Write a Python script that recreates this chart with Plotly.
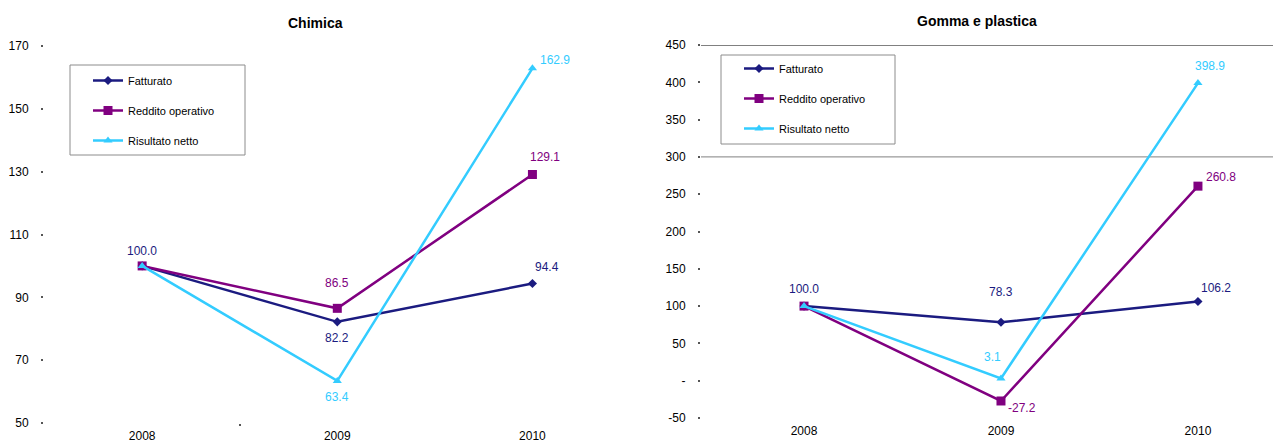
import plotly.graph_objects as go

# --- data -------------------------------------------------------------
years = ["2008", "2009", "2010"]

series_names = ["Fatturato", "Reddito operativo", "Risultato netto"]

chimica_fatturato = [100.0, 82.2, 94.4]
chimica_reddito = [100.0, 86.5, 129.1]
chimica_risultato = [100.0, 63.4, 162.9]

gomma_fatturato = [100.0, 78.3, 106.2]
gomma_reddito = [100.0, -27.2, 260.8]
gomma_risultato = [100.0, 3.1, 398.9]

chimica_yticks = [50, 70, 90, 110, 130, 150, 170]
chimica_yticktext = ["50", "70", "90", "110", "130", "150", "170"]
gomma_yticks = [-50, 0, 50, 100, 150, 200, 250, 300, 350, 400, 450]
gomma_yticktext = ["-50", "-", "50", "100", "150", "200", "250", "300", "350", "400", "450"]

# --- styling ----------------------------------------------------------
W, H = 1273, 443
NAVY = "#1b1b80"
PURPLE = "#800080"
CYAN = "#33ccff"
colors = [NAVY, PURPLE, CYAN]
symbols = ["diamond", "square", "triangle-up"]
msizes = [7, 9, 8]
FONT = "Liberation Sans, Arial, sans-serif"


def px_x(p):
    return p / W


def px_y(p):
    return (H - p) / H


fig = go.Figure()

idx = list(range(len(years)))

panels = [
    ("x", "y", "legend", [chimica_fatturato, chimica_reddito, chimica_risultato]),
    ("x2", "y2", "legend2", [gomma_fatturato, gomma_reddito, gomma_risultato]),
]

for xa, ya, lg, values in panels:
    for k, (name, vals) in enumerate(zip(series_names, values)):
        fig.add_trace(go.Scatter(
            x=idx, y=vals, name=name, mode="lines+markers",
            xaxis=xa, yaxis=ya, legend=lg, legendgroup=f"{lg}{k}",
            line=dict(color=colors[k], width=2.5),
            marker=dict(symbol=symbols[k], size=msizes[k], color=colors[k]),
            cliponaxis=False,
        ))

# --- data labels (offsets in pixels from each point) ------------------
label_specs = [
    # axis suffix, series values, color, point index, xshift, yshift
    ("", chimica_fatturato, NAVY, 0, 0, 15),
    ("", chimica_fatturato, NAVY, 1, 0, -16),
    ("", chimica_fatturato, NAVY, 2, 15, 17),
    ("", chimica_reddito, PURPLE, 1, 0, 25),
    ("", chimica_reddito, PURPLE, 2, 13, 17),
    ("", chimica_risultato, CYAN, 1, 0, -16),
    ("", chimica_risultato, CYAN, 2, 23, 8),
    ("2", gomma_fatturato, NAVY, 0, 0, 17),
    ("2", gomma_fatturato, NAVY, 1, 0, 30),
    ("2", gomma_fatturato, NAVY, 2, 18, 13),
    ("2", gomma_reddito, PURPLE, 1, 21, -7),
    ("2", gomma_reddito, PURPLE, 2, 23, 9),
    ("2", gomma_risultato, CYAN, 1, -8, 21),
    ("2", gomma_risultato, CYAN, 2, 12, 17),
]
for ax, vals, col, i, dx, dy in label_specs:
    fig.add_annotation(
        x=idx[i], y=vals[i], xref="x" + ax, yref="y" + ax,
        text=f"{vals[i]:.1f}", showarrow=False,
        xshift=dx, yshift=dy,
        font=dict(family=FONT, size=12, color=col),
    )

# --- titles -----------------------------------------------------------
for txt, cx, cy in [("Chimica", 315, 23), ("Gomma e plastica", 977, 21)]:
    fig.add_annotation(
        x=px_x(cx), y=px_y(cy), xref="paper", yref="paper",
        text=f"<b>{txt}</b>", showarrow=False,
        xanchor="center", yanchor="middle",
        font=dict(family=FONT, size=14, color="black"),
    )

# --- legend frames and horizontal rules --------------------------------
for x0, y0, x1, y1 in [(70, 65, 245, 155), (721, 55, 895, 144)]:
    fig.add_shape(type="rect", xref="paper", yref="paper",
                  x0=px_x(x0), x1=px_x(x1), y0=px_y(y0), y1=px_y(y1),
                  line=dict(color="#8c8c8c", width=1), fillcolor="white", layer="below")

fig.add_shape(type="line", xref="x2 domain", yref="y2", x0=0, x1=1, y0=450, y1=450,
              line=dict(color="#808080", width=2), layer="below")
fig.add_shape(type="line", xref="x2 domain", yref="y2", x0=0, x1=1, y0=300, y1=300,
              line=dict(color="#808080", width=1), layer="below")

# --- axes ---------------------------------------------------------------
tickfont = dict(family=FONT, size=12, color="black")

common_x = dict(
    tickvals=idx, ticktext=years, showgrid=False, zeroline=False,
    showline=False, ticks="", tickfont=tickfont, ticklabelstandoff=4,
)
common_y = dict(
    showgrid=False, zeroline=False, showline=False,
    ticks="outside", ticklen=2, tickwidth=2, tickcolor="#555555",
    tickfont=tickfont, ticklabelstandoff=10,
)

fig.update_layout(
    width=W, height=H,
    margin=dict(l=0, r=0, t=0, b=0, autoexpand=False),
    paper_bgcolor="white", plot_bgcolor="rgba(0,0,0,0)",
    font=dict(family=FONT, size=12, color="black"),
    xaxis=dict(domain=[px_x(44), px_x(630)], range=[-0.503, 2.5], anchor="y",
               minor=dict(tickvals=[0.5], ticks="outside", ticklen=2,
                          tickwidth=2, tickcolor="#555555"),
               **common_x),
    yaxis=dict(domain=[px_y(423), px_y(46)], range=[50, 170], anchor="x",
               tickvals=chimica_yticks, ticktext=chimica_yticktext, **common_y),
    xaxis2=dict(domain=[px_x(701), 1.0], range=[-0.523, 2.381], anchor="y2", **common_x),
    yaxis2=dict(domain=[px_y(418), px_y(45)], range=[-50, 450], anchor="x2",
                tickvals=gomma_yticks, ticktext=gomma_yticktext, **common_y),
    legend=dict(x=px_x(88), y=px_y(66), xanchor="left", yanchor="top",
                bgcolor="rgba(0,0,0,0)", borderwidth=0, itemwidth=30,
                tracegroupgap=11, font=dict(family=FONT, size=11, color="black")),
    legend2=dict(x=px_x(739), y=px_y(54), xanchor="left", yanchor="top",
                 bgcolor="rgba(0,0,0,0)", borderwidth=0, itemwidth=30,
                 tracegroupgap=11, font=dict(family=FONT, size=11, color="black")),
    showlegend=True,
)

fig.write_html("out.html")
